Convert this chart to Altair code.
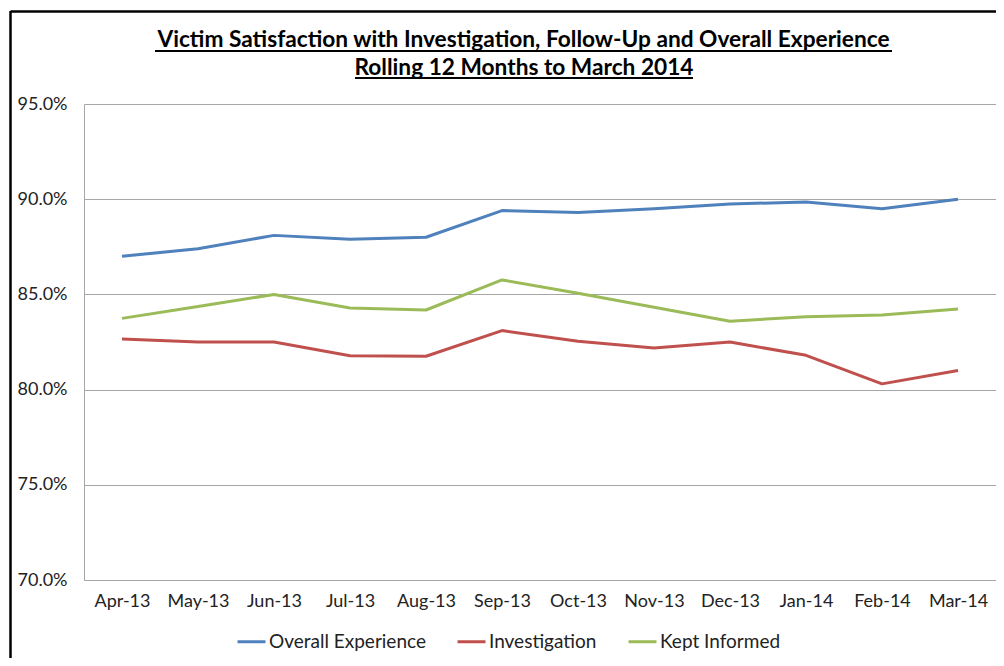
import altair as alt
import pandas as pd

months = ["Apr-13", "May-13", "Jun-13", "Jul-13", "Aug-13", "Sep-13",
          "Oct-13", "Nov-13", "Dec-13", "Jan-14", "Feb-14", "Mar-14"]
series_names = ["Overall Experience", "Investigation", "Kept Informed"]
overall = [87.0, 87.4, 88.1, 87.9, 88.0, 89.4, 89.3, 89.5, 89.75, 89.85, 89.5, 90.0]
investigation = [82.66, 82.5, 82.5, 81.78, 81.75, 83.1, 82.54, 82.18, 82.5, 81.8, 80.3, 81.0]
kept_informed = [83.74, 84.36, 85.0, 84.29, 84.18, 85.76, 85.06, 84.32, 83.59, 83.83, 83.92, 84.23]
colors = ["#4F81BD", "#C0504D", "#9BBB59"]
y_ticks = [70, 75, 80, 85, 90, 95]
title_lines = ["Victim Satisfaction with Investigation, Follow-Up and Overall Experience",
               "Rolling 12 Months to March 2014"]

rows = []
for name, vals in zip(series_names, [overall, investigation, kept_informed]):
    for m, v in zip(months, vals):
        rows.append({"Month": m, "Series": name, "Value": v})
df = pd.DataFrame(rows)

FONT = "Lato"

lines = alt.Chart(df).mark_line(strokeWidth=3, strokeJoin="round").encode(
    x=alt.X("Month:N", sort=months,
            scale=alt.Scale(paddingInner=0, paddingOuter=0),
            axis=alt.Axis(title=None, labelAngle=0, ticks=False, grid=False,
                          domainColor="#a6a6a6", labelPadding=12,
                          labelFont=FONT, labelFontSize=18, labelColor="#222222")),
    y=alt.Y("Value:Q", scale=alt.Scale(domain=[70, 95], nice=False, zero=False),
            axis=alt.Axis(title=None, values=y_ticks, ticks=False, grid=True,
                          gridColor="#a6a6a6", domainColor="#a6a6a6",
                          labelExpr="format(datum.value, '.1f') + '%'",
                          labelPadding=17, labelFont=FONT, labelFontSize=18,
                          labelColor="#222222")),
    color=alt.Color("Series:N", sort=series_names,
                    scale=alt.Scale(domain=series_names, range=colors),
                    legend=alt.Legend(title=None, orient="none", direction="horizontal",
                                      legendX=152, legendY=522,
                                      symbolType="stroke", symbolSize=784,
                                      symbolStrokeWidth=3, labelOffset=2,
                                      columnPadding=25, labelLimit=400,
                                      labelFont=FONT, labelFontSize=19,
                                      labelColor="#222222")),
)

t1 = alt.Chart(pd.DataFrame({"t": [title_lines[0]]})).mark_text(
    font=FONT, fontSize=22.7, fontWeight="bold", color="black",
    align="center", baseline="alphabetic"
).encode(text="t:N", x=alt.value(439.5), y=alt.value(-57.5))

t2 = alt.Chart(pd.DataFrame({"t": [title_lines[1]]})).mark_text(
    font=FONT, fontSize=22.7, fontWeight="bold", color="black",
    align="center", baseline="alphabetic"
).encode(text="t:N", x=alt.value(440), y=alt.value(-29))

u1 = alt.Chart(pd.DataFrame({"a": [0]})).mark_rule(color="black", strokeWidth=2).encode(
    x=alt.value(71), x2=alt.value(808), y=alt.value(-53))
u2 = alt.Chart(pd.DataFrame({"a": [0]})).mark_rule(color="black", strokeWidth=2).encode(
    x=alt.value(271), x2=alt.value(609), y=alt.value(-26))

border_left = alt.Chart(pd.DataFrame({"a": [0]})).mark_rule(color="black", strokeWidth=2.5).encode(
    x=alt.value(-73.5), y=alt.value(-93), y2=alt.value(700))
border_top = alt.Chart(pd.DataFrame({"a": [0]})).mark_rule(color="black", strokeWidth=2.5).encode(
    x=alt.value(-73.5), x2=alt.value(1200), y=alt.value(-92.5))

chart = alt.layer(lines, t1, t2, u1, u2, border_left, border_top).properties(
    width=912, height=476,
    autosize=alt.AutoSizeParams(type="none"),
    padding={"left": 76, "top": 96, "right": 0, "bottom": 78},
    background="white",
).configure_view(stroke=None)

chart.save("out.html", embed_options={"renderer": "svg", "actions": False})
